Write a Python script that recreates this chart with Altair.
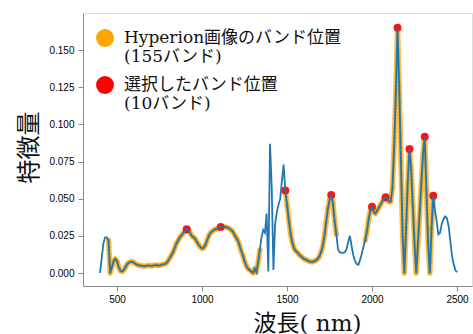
import altair as alt
import pandas as pd

# Wavelength grid (nm) of the spectrum, 10 nm steps
wavelength_nm = list(range(400, 2501, 10))

# Feature value, per 100 nm block
feature = [
    0.000, 0.010, 0.020, 0.024, 0.024, 0.022, 0.000, 0.004, 0.008, 0.0095,   # 400-490
    0.008, 0.004, 0.0015, 0.001, 0.002, 0.004, 0.006, 0.007, 0.0075, 0.0075, # 500-590
    0.007, 0.006, 0.0055, 0.005, 0.005, 0.0048, 0.0045, 0.0048, 0.005, 0.005,# 600-690
    0.0048, 0.005, 0.0052, 0.0055, 0.005, 0.0052, 0.0055, 0.0058, 0.006, 0.0065, # 700-790
    0.008, 0.010, 0.012, 0.014, 0.017, 0.020, 0.022, 0.024, 0.0255, 0.027,   # 800-890
    0.028, 0.0295, 0.029, 0.027, 0.025, 0.024, 0.023, 0.021, 0.019, 0.0175,  # 900-990
    0.0165, 0.017, 0.019, 0.022, 0.025, 0.027, 0.028, 0.029, 0.0295, 0.030, # 1000-1090
    0.0305, 0.031, 0.031, 0.031, 0.031, 0.0305, 0.030, 0.029, 0.028, 0.026, # 1100-1190
    0.024, 0.022, 0.019, 0.015, 0.012, 0.008, 0.005, 0.003, 0.002, 0.001,    # 1200-1290
    0.000, 0.003, 0.0005, 0.007, 0.0155, 0.024, 0.029, 0.027, 0.040, 0.001, # 1300-1390
    0.087, 0.058, 0.002, 0.033, 0.041, 0.046, 0.050, 0.062, 0.073, 0.0555,  # 1400-1490
    0.046, 0.036, 0.027, 0.021, 0.017, 0.015, 0.014, 0.0125, 0.0115, 0.0105,# 1500-1590
    0.0095, 0.009, 0.0085, 0.0078, 0.0075, 0.0075, 0.008, 0.0085, 0.0095, 0.011, # 1600-1690
    0.014, 0.018, 0.025, 0.034, 0.043, 0.049, 0.0525, 0.047, 0.035, 0.026,  # 1700-1790
    0.016, 0.014, 0.0135, 0.0135, 0.014, 0.016, 0.021, 0.025, 0.018, 0.012, # 1800-1890
    0.008, 0.006, 0.0055, 0.009, 0.013, 0.018, 0.022, 0.028, 0.036, 0.042,  # 1900-1990
    0.0445, 0.041, 0.040, 0.042, 0.044, 0.046, 0.048, 0.050, 0.051, 0.050, # 2000-2090
    0.048, 0.048, 0.057, 0.085, 0.120, 0.165, 0.125, 0.075, 0.025, 0.000,   # 2100-2190
    0.030, 0.060, 0.0834, 0.070, 0.045, 0.020, 0.000, 0.020, 0.040, 0.060,  # 2200-2290
    0.080, 0.0917, 0.055, 0.020, 0.000, 0.030, 0.052, 0.042, 0.035, 0.026,  # 2300-2390
    0.027, 0.033, 0.036, 0.038, 0.037, 0.032, 0.022, 0.012, 0.006, 0.002,   # 2400-2490
    0.0005,                                                                  # 2500
]

# Wavelength ranges covered by the 155 Hyperion bands
hyperion_ranges = [(450, 1340), (1490, 1790), (1960, 2360)]
# The 10 selected bands
selected_nm = [910, 1110, 1490, 1760, 2000, 2080, 2150, 2220, 2310, 2360]

label_hyp = "Hyperion画像のバンド位置\n(155バンド)"
label_sel = "選択したバンド位置\n(10バンド)"

spec = pd.DataFrame({"nm": wavelength_nm, "v": feature})

rows = []
for seg, (lo, hi) in enumerate(hyperion_ranges):
    for nm, v in zip(wavelength_nm, feature):
        if lo <= nm <= hi:
            rows.append({"nm": nm, "v": v, "seg": seg, "kind": label_hyp})
hyp = pd.DataFrame(rows)

lookup = dict(zip(wavelength_nm, feature))
sel = pd.DataFrame({"nm": selected_nm,
                    "v": [lookup[n] for n in selected_nm],
                    "kind": label_sel})

xs = alt.Scale(domain=[300, 2588], nice=False, zero=False)
ys = alt.Scale(domain=[-0.00874, 0.1749], nice=False, zero=False)

serif_jp = "DejaVu Serif, Noto Sans CJK JP"

xax = alt.Axis(values=[500, 1000, 1500, 2000, 2500], format="d", title="波長( nm)",
               titleX=224, titleY=37, titleBaseline="middle", titleAlign="center",
               titleFontSize=23, titleFont=serif_jp,
               titleFontWeight="normal", titleColor="#111", grid=False,
               labelPadding=3)
yax = alt.Axis(values=[0, 0.025, 0.05, 0.075, 0.1, 0.125, 0.15], format=".3f",
               title="特徴量", titleX=-54, titleY=134, titleAngle=270,
               titleBaseline="middle", titleAlign="center", titleFontSize=24,
               titleFont="Noto Sans CJK JP", titleFontWeight="normal",
               titleColor="#111", grid=False, labelPadding=4)

X = alt.X("nm:Q", scale=xs, axis=xax)
Y = alt.Y("v:Q", scale=ys, axis=yax)

color = alt.Color("kind:N",
                  scale=alt.Scale(domain=[label_hyp, label_sel], range=["#FFA500", "#FF0000"]),
                  legend=alt.Legend(title=None, orient="none", legendX=13, legendY=16,
                                    symbolType="circle", symbolSize=320, symbolOpacity=1,
                                    symbolStrokeWidth=0,
                                    labelExpr="split(datum.label, '\\n')",
                                    labelFont=serif_jp,
                                    labelFontSize=17, labelColor="#111",
                                    labelLimit=0, labelOffset=10, rowPadding=11, padding=0))

halo = alt.Chart(hyp).mark_line(strokeWidth=5.5, color="#FFA500", opacity=0.7,
                                strokeCap="round", strokeJoin="round").encode(
    x=X, y=Y, detail="seg:N", order="nm:Q")
dots_line = alt.Chart(hyp).mark_line(strokeWidth=3.2, color="#D6A11E", opacity=0.9,
                                     strokeDash=[0.1, 3.2], strokeCap="round").encode(
    x=X, y=Y, detail="seg:N", order="nm:Q")
hyp_pts = alt.Chart(hyp).mark_circle(size=18, opacity=0.8).encode(x=X, y=Y, color=color)
sel_pts = alt.Chart(sel).mark_circle(size=64, opacity=0.9).encode(x=X, y=Y, color=color)
blue = alt.Chart(spec).mark_line(strokeWidth=1.8, color="#1f77b4").encode(
    x=X, y=Y, order="nm:Q")

chart = alt.layer(halo, dots_line, hyp_pts, sel_pts, blue).properties(
    width=389, height=273,
    autosize=alt.AutoSizeParams(type="none"),
    padding={"left": 83, "top": 13, "right": 1, "bottom": 48},
).configure_view(stroke="#999", strokeWidth=1.2).configure_axis(
    domainColor="#555", domainWidth=1.5, tickColor="#555", tickWidth=1.2, tickSize=5,
    labelFont="DejaVu Sans", labelFontSize=11, labelColor="#333"
).configure(background="white")

chart.save("out.html", embed_options={"renderer": "svg", "actions": False})
